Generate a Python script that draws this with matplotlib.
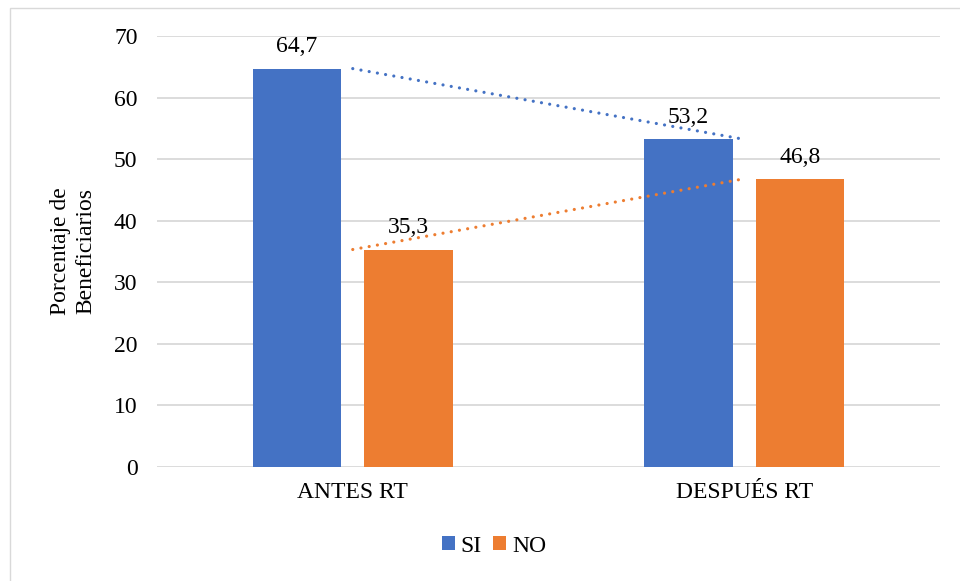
import numpy as np
import matplotlib
matplotlib.use("Agg")
import matplotlib.pyplot as plt
from matplotlib.patches import Patch, Rectangle

## data
categories = ["ANTES RT", "DESPUÉS RT"]
si_values = [64.7, 53.2]
no_values = [35.3, 46.8]
series_names = ["SI", "NO"]
y_ticks = [0, 10, 20, 30, 40, 50, 60, 70]

blue = "#4472C4"
orange = "#ED7D31"
grid_color = "#D9D9D9"

plt.rcParams["font.family"] = ["Liberation Serif", "DejaVu Serif"]
plt.rcParams["font.size"] = 17

W, H = 960, 581
fig = plt.figure(figsize=(W / 100, H / 100), dpi=100)

## light frame round the whole chart
fig.patches.append(Rectangle((9.5 / W, -0.1), 1.2, 1 - 7.5 / H + 0.1,
                             transform=fig.transFigure, fill=False,
                             edgecolor="#D9D9D9", linewidth=1.0))

ax = fig.add_axes([157 / W, 1 - 466.7 / H, (940 - 157) / W, (466.7 - 36) / H])

x = np.arange(len(categories))
bar_w = 0.225
offset = 0.1425

ax.bar(x - offset, si_values, width=bar_w, color=blue, zorder=3)
ax.bar(x + offset, no_values, width=bar_w, color=orange, zorder=3)

## value labels
for xi, v in zip(x - offset, si_values):
    ax.annotate(f"{v:.1f}".replace(".", ","), (xi, v), xytext=(0, 8),
                textcoords="offset points", ha="center", va="bottom", zorder=5)
for xi, v in zip(x + offset, no_values):
    ax.annotate(f"{v:.1f}".replace(".", ","), (xi, v), xytext=(0, 8),
                textcoords="offset points", ha="center", va="bottom", zorder=5)

## linear trendlines (dotted) across the category centres
for vals, col in [(si_values, blue), (no_values, orange)]:
    m, b = np.polyfit(x, vals, 1)
    ax.plot(x, m * x + b, color=col, linewidth=2.3,
            linestyle=(0, (0.01, 2.6)), dash_capstyle="round", zorder=4)

ax.set_xlim(-0.5, 1.5)
ax.set_ylim(0, 70)
ax.set_yticks(y_ticks)
ax.set_xticks(x)
ax.set_xticklabels(categories)
ax.tick_params(axis="both", length=0)
ax.tick_params(axis="y", pad=14)
ax.tick_params(axis="x", pad=11)

ax.grid(axis="y", color=grid_color, linewidth=1.3, zorder=0)
for s in ax.spines.values():
    s.set_visible(False)

fig.text(73 / W, 1 - 251 / H, "Porcentaje de\nBeneficiarios", rotation=90,
         ha="center", va="center", linespacing=1.3)

handles = [Patch(facecolor=blue, edgecolor="none"),
           Patch(facecolor=orange, edgecolor="none")]
fig.legend(handles, series_names, loc="center", ncol=2,
           bbox_to_anchor=(494 / W, 1 - 546 / H), frameon=False,
           handlelength=0.55, handleheight=0.55, handletextpad=0.25,
           columnspacing=0.5, borderpad=0)

fig.savefig("out.png", dpi=100)
